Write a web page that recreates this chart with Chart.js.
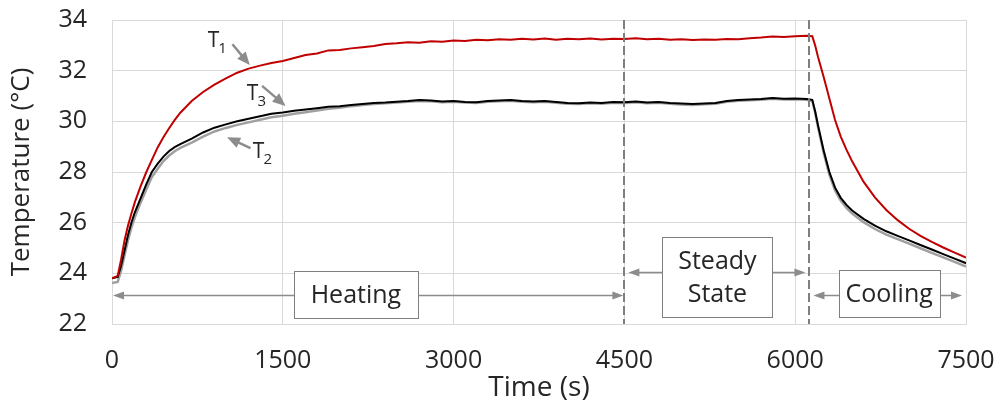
<!DOCTYPE html>
<html>
<head>
<meta charset="utf-8">
<script src="https://cdn.jsdelivr.net/npm/chart.js@4.4.1/dist/chart.umd.min.js"></script>
<style>
  html, body { margin: 0; padding: 0; background: #fff; }
  #wrap { width: 997px; height: 405px; }
</style>
</head>
<body>
<div id="wrap"><canvas id="chart"></canvas></div>
<script>
// Time (s) of every reading, shared by the three sensors
const times = [
  0, 50, 80, 110, 140, 170, 200, 250, 300, 350, 400, 450, 500, 550, 600,
  700, 800, 900, 1000, 1100, 1200, 1300, 1400, 1500, 1600, 1700, 1800, 1900, 2000,
  2100, 2200, 2300, 2400, 2500, 2600, 2700, 2800, 2900, 3000,
  3100, 3200, 3300, 3400, 3500, 3600, 3700, 3800, 3900, 4000,
  4100, 4200, 4300, 4400, 4500, 4600, 4700, 4800, 4900, 5000,
  5100, 5200, 5300, 5400, 5500, 5600, 5700, 5800, 5900, 6000, 6100,
  6150, 6175, 6200, 6250, 6300, 6350, 6400, 6450, 6500,
  6600, 6700, 6800, 6900, 7000, 7100, 7200, 7300, 7400, 7500
];

// Temperatures (°C)
const t1 = [
  23.80, 23.90, 24.55, 25.30, 25.88, 26.35, 26.80, 27.42, 27.98, 28.48, 28.96, 29.36, 29.72, 30.05, 30.34,
  30.80, 31.16, 31.45, 31.70, 31.92, 32.08, 32.20, 32.30, 32.38, 32.50, 32.62, 32.68, 32.80, 32.82,
  32.88, 32.92, 32.97, 33.05, 33.08, 33.12, 33.10, 33.16, 33.14, 33.19,
  33.17, 33.22, 33.20, 33.24, 33.22, 33.26, 33.23, 33.27, 33.22, 33.26,
  33.24, 33.27, 33.23, 33.26, 33.25, 33.28, 33.24, 33.26, 33.22, 33.24,
  33.21, 33.23, 33.22, 33.25, 33.24, 33.28, 33.31, 33.35, 33.33, 33.36, 33.38,
  33.36, 33.00, 32.55, 31.75, 30.90, 30.05, 29.40, 28.88, 28.42,
  27.62, 27.00, 26.50, 26.10, 25.76, 25.48, 25.24, 25.02, 24.82, 24.62
];
const t2 = [
  23.62, 23.66, 24.10, 24.70, 25.30, 25.80, 26.20, 26.78, 27.30, 27.80, 28.12, 28.42, 28.64, 28.82, 28.95,
  29.16, 29.40, 29.60, 29.74, 29.86, 29.96, 30.06, 30.16, 30.22, 30.30, 30.36, 30.43, 30.50, 30.54,
  30.60, 30.64, 30.68, 30.71, 30.74, 30.77, 30.80, 30.79, 30.75, 30.77,
  30.74, 30.72, 30.77, 30.79, 30.81, 30.77, 30.75, 30.77, 30.73, 30.69,
  30.68, 30.71, 30.69, 30.73, 30.72, 30.75, 30.71, 30.73, 30.69, 30.66,
  30.64, 30.67, 30.69, 30.77, 30.81, 30.83, 30.85, 30.89, 30.86, 30.87, 30.85,
  30.80, 30.35, 29.78, 28.75, 27.90, 27.27, 26.87, 26.58, 26.36,
  26.02, 25.75, 25.53, 25.35, 25.17, 24.99, 24.81, 24.63, 24.45, 24.27
];
const t3 = [
  23.80, 23.86, 24.30, 24.90, 25.50, 26.00, 26.40, 26.95, 27.50, 28.00, 28.32, 28.60, 28.82, 28.98, 29.10,
  29.32, 29.56, 29.75, 29.88, 30.00, 30.10, 30.20, 30.30, 30.35, 30.42, 30.47, 30.52, 30.58, 30.60,
  30.64, 30.68, 30.72, 30.74, 30.77, 30.80, 30.84, 30.82, 30.78, 30.80,
  30.76, 30.75, 30.80, 30.82, 30.84, 30.80, 30.78, 30.80, 30.76, 30.72,
  30.71, 30.74, 30.72, 30.76, 30.75, 30.78, 30.74, 30.76, 30.72, 30.70,
  30.68, 30.70, 30.72, 30.80, 30.84, 30.86, 30.88, 30.92, 30.89, 30.90, 30.88,
  30.85, 30.40, 29.85, 28.85, 28.00, 27.38, 26.98, 26.70, 26.48,
  26.15, 25.88, 25.66, 25.48, 25.30, 25.12, 24.94, 24.76, 24.58, 24.40
];

const xTicks = [0, 1500, 3000, 4500, 6000, 7500];
const yTicks = [22, 24, 26, 28, 30, 32, 34];

// phase boundaries (s)
const phaseEdges = [4500, 6125];
const phaseNames = [["Heating"], ["Steady", "State"], ["Cooling"]];
const phaseSpans = [[0, 4500], [4500, 6125], [6125, 7500]];

// annotation placement (data units) and sizes (px)
const phaseLayout = [
  { arrowY: 23.15, box: [2142, 23.15], size: [124, 47], inset: 0 },
  { arrowY: 24.07, box: [5317, 23.84], size: [110, 80], inset: 3 },
  { arrowY: 23.15, box: [6825, 23.19], size: [101, 47], inset: 3 }
];
const tagLayout = [
  { sub: "1", text: [841, 32.93], from: [1058, 33.04], to: [1210, 32.22] },
  { sub: "3", text: [1184, 30.84], from: [1318, 31.40], to: [1524, 30.61] },
  { sub: "2", text: [1237, 28.55], from: [1216, 28.94], to: [1011, 29.37] }
];

const FONT = "'Open Sans', 'Noto Sans', sans-serif";
const TEXT = "#262626";

function toXY(vals) {
  return times.map((t, i) => ({ x: t, y: vals[i] }));
}

function arrow(ctx, x0, y0, x1, y1, head, width) {
  const a = Math.atan2(y1 - y0, x1 - x0);
  const c = Math.cos(a), s = Math.sin(a);
  ctx.beginPath();
  ctx.moveTo(x0, y0);
  ctx.lineTo(x1 - c * head * 0.8, y1 - s * head * 0.8);
  ctx.stroke();
  ctx.beginPath();
  ctx.moveTo(x1, y1);
  ctx.lineTo(x1 - head * c + width / 2 * s, y1 - head * s - width / 2 * c);
  ctx.lineTo(x1 - head * c - width / 2 * s, y1 - head * s + width / 2 * c);
  ctx.closePath();
  ctx.fill();
}

const overlay = {
  id: "overlay",
  afterDatasetsDraw(chart) {
    const { ctx, chartArea: area, scales: { x, y } } = chart;
    ctx.save();

    // dashed lines between phases
    ctx.strokeStyle = "#7f7f7f";
    ctx.lineWidth = 2;
    ctx.setLineDash([9, 4]);
    phaseEdges.forEach(v => {
      const px = Math.round(x.getPixelForValue(v));
      ctx.beginPath();
      ctx.moveTo(px, area.top);
      ctx.lineTo(px, area.bottom);
      ctx.stroke();
    });
    ctx.setLineDash([]);

    // phase arrows with labelled boxes
    phaseNames.forEach((lines, i) => {
      const lay = phaseLayout[i];
      const [from, to] = phaseSpans[i];
      const ay = Math.round(y.getPixelForValue(lay.arrowY)) + 0.5;
      const bx = x.getPixelForValue(lay.box[0]);
      const by = y.getPixelForValue(lay.box[1]);
      const [w, h] = lay.size;
      ctx.strokeStyle = "#8c8c8c";
      ctx.fillStyle = "#8c8c8c";
      ctx.lineWidth = 1.5;
      arrow(ctx, bx, ay, x.getPixelForValue(from) + lay.inset + 1, ay, 11, 8);
      arrow(ctx, bx, ay, x.getPixelForValue(to) - lay.inset - 1, ay, 11, 8);

      ctx.fillStyle = "#fff";
      ctx.strokeStyle = "#7f7f7f";
      ctx.lineWidth = 1;
      const left = Math.round(bx - w / 2) + 0.5, top = Math.round(by - h / 2) + 0.5;
      ctx.fillRect(left, top, w, h);
      ctx.strokeRect(left, top, w, h);

      ctx.fillStyle = TEXT;
      ctx.font = "25px " + FONT;
      ctx.textAlign = "center";
      ctx.textBaseline = "middle";
      const step = 33;
      lines.forEach((txt, k) => {
        ctx.fillText(txt, bx, by + 1 + (k - (lines.length - 1) / 2) * step);
      });
    });

    // sensor tags
    tagLayout.forEach(tag => {
      ctx.strokeStyle = "#8c8c8c";
      ctx.fillStyle = "#8c8c8c";
      ctx.lineWidth = 2.5;
      arrow(ctx,
        x.getPixelForValue(tag.from[0]), y.getPixelForValue(tag.from[1]),
        x.getPixelForValue(tag.to[0]), y.getPixelForValue(tag.to[1]), 13, 11);

      const tx = x.getPixelForValue(tag.text[0]);
      const ty = y.getPixelForValue(tag.text[1]);
      ctx.fillStyle = TEXT;
      ctx.textAlign = "left";
      ctx.textBaseline = "alphabetic";
      ctx.font = "21px " + FONT;
      ctx.fillText("T", tx, ty);
      const tw = ctx.measureText("T").width;
      ctx.font = "15px " + FONT;
      ctx.fillText(tag.sub, tx + tw - 1, ty + 6);
    });

    ctx.restore();
  }
};

new Chart(document.getElementById("chart"), {
  type: "line",
  data: {
    datasets: [
      { label: "T1", data: toXY(t1), borderColor: "#c00000", borderWidth: 2 },
      { label: "T3", data: toXY(t3), borderColor: "#000000", borderWidth: 2 },
      { label: "T2", data: toXY(t2), borderColor: "#a0a0a0", borderWidth: 2.5 }
    ]
  },
  options: {
    responsive: true,
    maintainAspectRatio: false,
    animation: false,
    events: [],
    elements: { point: { radius: 0 }, line: { tension: 0 } },
    layout: { padding: { top: 20, right: 31, bottom: 0, left: 0 } },
    plugins: { legend: { display: false }, tooltip: { enabled: false } },
    scales: {
      x: {
        type: "linear",
        min: 0,
        max: 7500,
        afterBuildTicks: s => { s.ticks = xTicks.map(v => ({ value: v })); },
        afterFit: s => { s.height = 81; s.paddingLeft = 0; s.paddingRight = 0; },
        grid: { color: "#d9d9d9", drawTicks: false },
        border: { color: "#d9d9d9" },
        ticks: { color: TEXT, font: { family: FONT, size: 25 }, padding: 22, maxRotation: 0, callback: v => String(v) },
        title: { display: true, text: "Time (s)", color: TEXT, font: { family: FONT, size: 28 }, padding: { top: 0, bottom: 0 } }
      },
      y: {
        min: 22,
        max: 34,
        afterBuildTicks: s => { s.ticks = yTicks.map(v => ({ value: v })); },
        afterFit: s => { s.width = 112; s.paddingTop = 0; s.paddingBottom = 0; },
        grid: { color: "#d9d9d9", drawTicks: false },
        border: { color: "#d9d9d9" },
        ticks: { color: TEXT, font: { family: FONT, size: 25 }, padding: 25, callback: v => String(v) },
        title: { display: true, text: "Temperature (°C)", color: TEXT, font: { family: FONT, size: 26 }, padding: { top: 6, bottom: 0 } }
      }
    }
  },
  plugins: [overlay]
});
</script>
</body>
</html>
